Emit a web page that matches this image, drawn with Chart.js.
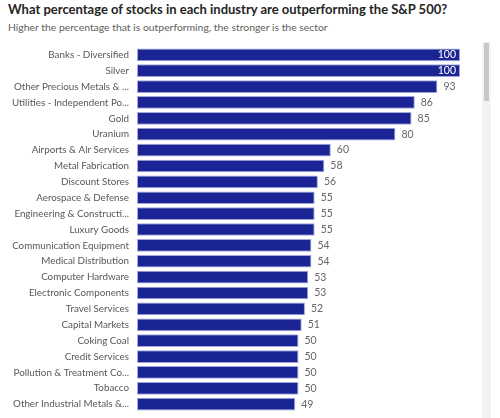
<!DOCTYPE html>
<html>
<head>
<meta charset="utf-8">
<script src="https://cdn.jsdelivr.net/npm/chart.js@4/dist/chart.umd.min.js"></script>
<style>
    body {
        margin: 0;
        width: 500px;
        height: 418px;
        background: #fff;
        font-family: Lato, sans-serif;
        overflow: hidden;
        position: relative;
    }
    .title {
        position: absolute;
        left: 8px;
        top: 1px;
        font-size: 13px;
        font-weight: 700;
        color: #252423;
        white-space: nowrap;
    }
    .subtitle {
        position: absolute;
        left: 8px;
        top: 21px;
        font-size: 10.4px;
        color: #605e5c;
        white-space: nowrap;
    }
    #chart {
        position: absolute;
        left: 0;
        top: 33px;
    }
    .scroll-track {
        position: absolute;
        left: 482px;
        top: 42px;
        width: 9px;
        height: 376px;
        background: #f3f3f3;
    }
    .scroll-thumb {
        position: absolute;
        left: 484px;
        top: 43px;
        width: 5px;
        height: 58px;
        background: #c8c8c8;
    }
</style>
</head>
<body>
<div class="title">What percentage of stocks in each industry are outperforming the S&amp;P 500?</div>
<div class="subtitle">Higher the percentage that is outperforming, the stronger is the sector</div>
<div class="scroll-track"></div>
<div class="scroll-thumb"></div>
<canvas id="chart" width="480" height="393"></canvas>
<script>
// data
const industries = [
    "Banks - Diversified",
    "Silver",
    "Other Precious Metals & ...",
    "Utilities - Independent Po...",
    "Gold",
    "Uranium",
    "Airports & Air Services",
    "Metal Fabrication",
    "Discount Stores",
    "Aerospace & Defense",
    "Engineering & Constructi...",
    "Luxury Goods",
    "Communication Equipment",
    "Medical Distribution",
    "Computer Hardware",
    "Electronic Components",
    "Travel Services",
    "Capital Markets",
    "Coking Coal",
    "Credit Services",
    "Pollution & Treatment Co...",
    "Tobacco",
    "Other Industrial Metals &...",
];
const outperforming = [100, 100, 93, 86, 85, 80, 60, 58, 56, 55, 55, 55, 54, 54, 53, 53, 52, 51, 50, 50, 50, 50, 49];

const barColor = "#1a2494";

// value labels, inside the bar when it is full, otherwise right after it
const valueLabels = {
    id: "valueLabels",
    afterDatasetsDraw(chart) {
        const ctx = chart.ctx;
        const meta = chart.getDatasetMeta(0);
        ctx.save();
        ctx.font = "10.5px Lato, sans-serif";
        ctx.textBaseline = "middle";
        meta.data.forEach((bar, i) => {
            const v = outperforming[i];
            if (v >= 100) {
                ctx.fillStyle = "#ffffff";
                ctx.textAlign = "right";
                ctx.fillText(v, bar.x - 4, bar.y);
            } else {
                ctx.fillStyle = "#666666";
                ctx.textAlign = "left";
                ctx.fillText(v, bar.x + 6, bar.y);
            }
        });
        ctx.restore();
    },
};

new Chart(document.getElementById("chart"), {
    type: "bar",
    data: {
        labels: industries,
        datasets: [
            {
                data: outperforming,
                backgroundColor: barColor,
                borderColor: "#a3a7dc",
                borderWidth: 1,
                borderSkipped: false,
                barPercentage: 0.8,
                categoryPercentage: 1,
            },
        ],
    },
    options: {
        indexAxis: "y",
        responsive: false,
        animation: false,
        layout: {
            padding: { left: 0, right: 20, top: 0, bottom: 0 },
        },
        plugins: {
            legend: { display: false },
            tooltip: { enabled: false },
        },
        scales: {
            x: {
                display: false,
                min: 0,
                max: 100,
            },
            y: {
                afterFit: (scale) => {
                    scale.width = 137;
                },
                grid: { display: false, drawTicks: false },
                border: { display: false },
                ticks: {
                    autoSkip: false,
                    padding: 8,
                    color: "#5a5856",
                    font: { family: "Lato, sans-serif", size: 9.8 },
                },
            },
        },
    },
    plugins: [valueLabels],
});
</script>
</body>
</html>
